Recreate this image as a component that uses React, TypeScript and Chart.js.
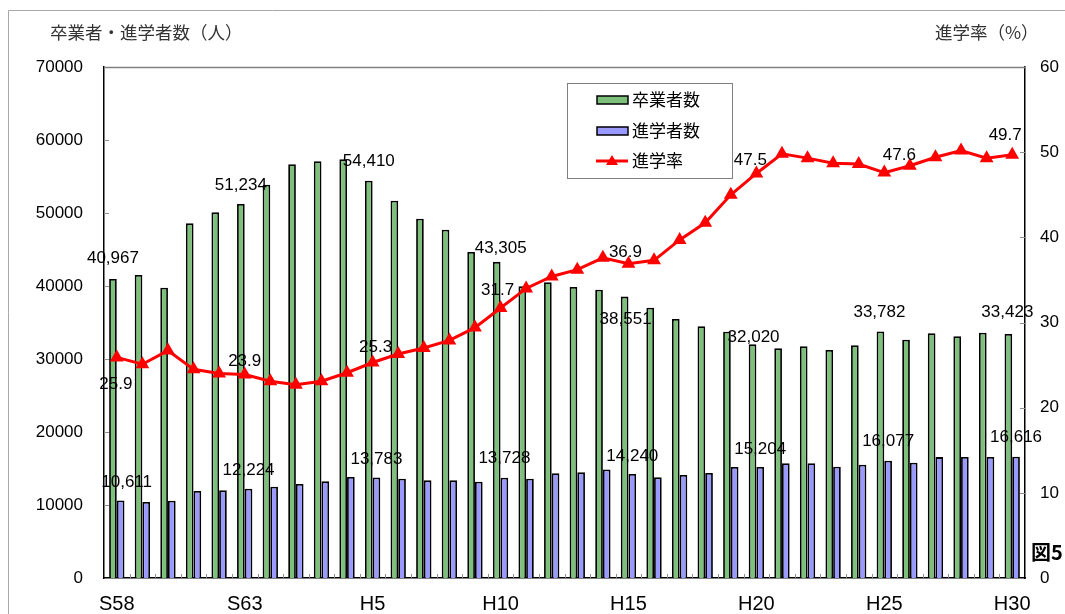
import React, { useEffect, useRef } from "react";
import { Chart, registerables } from "chart.js";

Chart.register(...registerables);

// ---- data ----
const categories = [
  "S58", "S59", "S60", "S61", "S62", "S63",
  "H1", "H2", "H3", "H4", "H5", "H6", "H7", "H8", "H9", "H10",
  "H11", "H12", "H13", "H14", "H15", "H16", "H17", "H18", "H19", "H20",
  "H21", "H22", "H23", "H24", "H25", "H26", "H27", "H28", "H29", "H30",
];
const graduates = [
  40967, 41500, 39770, 48580, 50090, 51234, 53880, 56670, 57080, 57350,
  54410, 51690, 49220, 47720, 44660, 43305, 39960, 40510, 39860, 39500,
  38551, 37030, 35480, 34480, 33740, 32020, 31460, 31740, 31230, 31870,
  33782, 32650, 33520, 33110, 33610, 33423,
];
const enrollees = [
  10611, 10410, 10590, 11920, 12010, 12224, 12510, 12880, 13240, 13830,
  13783, 13610, 13380, 13380, 13200, 13728, 13600, 14340, 14470, 14880,
  14240, 13790, 14110, 14380, 15200, 15204, 15710, 15710, 15250, 15530,
  16077, 15800, 16560, 16590, 16570, 16616,
];
const rate = [
  25.9, 25.1, 26.7, 24.5, 24.0, 23.9, 23.1, 22.7, 23.1, 24.1,
  25.3, 26.3, 27.0, 27.9, 29.4, 31.7, 34.0, 35.4, 36.2, 37.6,
  36.9, 37.3, 39.7, 41.7, 45.0, 47.5, 49.8, 49.3, 48.7, 48.6,
  47.6, 48.4, 49.4, 50.2, 49.3, 49.7,
];
const labeledIndices = [0, 5, 10, 15, 20, 25, 30, 35];
const seriesNames = ["卒業者数", "進学者数", "進学率"];
const leftTitle = "卒業者・進学者数（人）";
const rightTitle = "進学率（%）";
const figLabel = "図5";

// ---- label placement (style only) ----
const gradLabelOffset = [
  [0, -21], [0, -19], [0, -19], [4, -14], [1, 23], [1, -7], [-1, -19], [-1, -22],
];
const enrLabelOffset = [
  [6, -18], [0, -18], [0, -18], [0, -19], [0, -18], [0, -18], [0, -19], [0, -19],
];
const rateLabelOffset = [
  [-1, 27], [0, -13], [3, -15], [-3, -18], [-3, -11], [-6, -13], [15, -17], [-7, -19],
];

const GREEN = "#7cc07c";
const BLUE = "#9999ff";
const RED = "#ff0000";
const NUM_FONT = '"Liberation Sans", Arial, sans-serif';
const JP_FONT = '"Noto Sans CJK JP", "Noto Sans", sans-serif';

const fmt = (v: number) => v.toLocaleString("en-US");

const overlayPlugin = {
  id: "overlay",
  afterDatasetsDraw(chart: any) {
    const ctx = chart.ctx;
    ctx.save();
    ctx.font = `17px ${NUM_FONT}`;
    ctx.fillStyle = "#000";
    ctx.textAlign = "center";
    ctx.textBaseline = "middle";
    const metas = [0, 1, 2].map((i) => chart.getDatasetMeta(i));
    const offs = [gradLabelOffset, enrLabelOffset, rateLabelOffset];
    const vals = [graduates, enrollees, rate];
    labeledIndices.forEach((idx, k) => {
      for (let s = 0; s < 3; s++) {
        const el = metas[s].data[idx];
        if (!el) continue;
        const v = vals[s][idx];
        const txt = s === 2 ? v.toFixed(1) : fmt(v);
        ctx.fillText(txt, el.x + offs[s][k][0], el.y + offs[s][k][1]);
      }
    });
    ctx.restore();
  },
  afterDraw(chart: any) {
    const ctx = chart.ctx;
    const { left, right, top, bottom } = chart.chartArea;
    ctx.save();

    // outer frame
    ctx.strokeStyle = "#a8a8a8";
    ctx.lineWidth = 1;
    ctx.beginPath();
    ctx.moveTo(8.5, 614);
    ctx.lineTo(8.5, 10.5);
    ctx.lineTo(1065, 10.5);
    ctx.stroke();

    // top border of plot
    ctx.strokeStyle = "#808080";
    ctx.lineWidth = 1.5;
    ctx.beginPath();
    ctx.moveTo(left, top + 0.5);
    ctx.lineTo(right, top + 0.5);
    ctx.stroke();

    // inside tick marks
    ctx.strokeStyle = "#909090";
    ctx.lineWidth = 1;
    const y = chart.scales.y;
    const y1 = chart.scales.y1;
    for (let v = 10000; v < 70000; v += 10000) {
      const py = Math.round(y.getPixelForValue(v)) + 0.5;
      ctx.beginPath();
      ctx.moveTo(left, py);
      ctx.lineTo(left + 5, py);
      ctx.stroke();
    }
    for (let v = 10; v < 60; v += 10) {
      const py = Math.round(y1.getPixelForValue(v)) + 0.5;
      ctx.beginPath();
      ctx.moveTo(right - 5, py);
      ctx.lineTo(right, py);
      ctx.stroke();
    }
    const n = categories.length;
    for (let i = 1; i < n; i++) {
      const px = Math.round(left + (i * (right - left)) / n) + 0.5;
      ctx.beginPath();
      ctx.moveTo(px, bottom);
      ctx.lineTo(px, bottom - 4);
      ctx.stroke();
    }

    // axis titles
    ctx.fillStyle = "#333";
    ctx.font = `17.5px ${JP_FONT}`;
    ctx.textBaseline = "middle";
    ctx.textAlign = "left";
    ctx.fillText(leftTitle, 50, 32);
    ctx.fillText(rightTitle, 935, 32);

    // legend box
    const lx = 567, ly = 83, lw = 165, lh = 95;
    ctx.fillStyle = "#fff";
    ctx.fillRect(lx, ly, lw, lh);
    ctx.strokeStyle = "#808080";
    ctx.lineWidth = 1;
    ctx.strokeRect(lx + 0.5, ly + 0.5, lw, lh);
    const rows = [100, 131, 161];
    const fills = [GREEN, BLUE];
    for (let r = 0; r < 2; r++) {
      ctx.fillStyle = fills[r];
      ctx.fillRect(597, rows[r] - 4, 31, 8);
      ctx.strokeStyle = "#000";
      ctx.lineWidth = 1.5;
      ctx.strokeRect(597, rows[r] - 4, 31, 8);
    }
    ctx.strokeStyle = RED;
    ctx.lineWidth = 3;
    ctx.beginPath();
    ctx.moveTo(596, rows[2]);
    ctx.lineTo(628, rows[2]);
    ctx.stroke();
    ctx.fillStyle = RED;
    ctx.beginPath();
    ctx.moveTo(612, rows[2] - 6);
    ctx.lineTo(618, rows[2] + 4);
    ctx.lineTo(606, rows[2] + 4);
    ctx.closePath();
    ctx.fill();
    ctx.fillStyle = "#000";
    ctx.font = `17px ${JP_FONT}`;
    ctx.textAlign = "left";
    for (let r = 0; r < 3; r++) ctx.fillText(seriesNames[r], 632, rows[r]);

    // figure label
    ctx.font = `bold 20px ${JP_FONT}`;
    ctx.fillText(figLabel, 1031, 552);
    ctx.restore();
  },
};

export default function App() {
  const ref = useRef<HTMLCanvasElement | null>(null);
  useEffect(() => {
    if (!ref.current) return;
    const chart = new Chart(ref.current, {
      type: "bar",
      data: {
        labels: categories,
        datasets: [
          {
            type: "bar",
            label: seriesNames[0],
            data: graduates,
            backgroundColor: GREEN,
            borderColor: "#000",
            borderWidth: 1.8,
            yAxisID: "y",
            order: 2,
            barPercentage: 1,
            categoryPercentage: 0.6,
          },
          {
            type: "bar",
            label: seriesNames[1],
            data: enrollees,
            backgroundColor: BLUE,
            borderColor: "#000",
            borderWidth: 1.8,
            yAxisID: "y",
            order: 2,
            barPercentage: 1,
            categoryPercentage: 0.6,
          },
          {
            type: "line",
            label: seriesNames[2],
            data: rate,
            borderColor: RED,
            backgroundColor: RED,
            borderWidth: 3,
            pointStyle: "triangle",
            pointRadius: 5,
            pointBackgroundColor: RED,
            pointBorderColor: RED,
            tension: 0,
            yAxisID: "y1",
            order: 0,
          },
        ] as any,
      },
      options: {
        responsive: false,
        animation: false,
        devicePixelRatio: 1,
        layout: { padding: { top: 67, left: 0, right: 0, bottom: 0 } },
        plugins: {
          legend: { display: false },
          tooltip: { enabled: false },
          title: { display: false },
        },
        scales: {
          x: {
            type: "category",
            offset: true,
            grid: { display: false, drawTicks: false },
            border: { display: true, color: "#000", width: 1.5 },
            ticks: {
              autoSkip: false,
              maxRotation: 0,
              minRotation: 0,
              padding: 14,
              color: "#000",
              font: { family: NUM_FONT, size: 20 },
              callback: (_v: any, i: number) => (i % 5 === 0 ? categories[i] : ""),
            },
            afterFit: (s: any) => {
              s.height = 36;
            },
          },
          y: {
            type: "linear",
            position: "left",
            min: 0,
            max: 70000,
            grid: { display: false, drawTicks: false },
            border: { display: true, color: "#000", width: 1.5 },
            ticks: {
              stepSize: 10000,
              padding: 21,
              color: "#000",
              font: { family: NUM_FONT, size: 17 },
              callback: (v: any) => String(v),
            },
            afterFit: (s: any) => {
              s.width = 104;
            },
          },
          y1: {
            type: "linear",
            position: "right",
            min: 0,
            max: 60,
            grid: { display: false, drawTicks: false },
            border: { display: true, color: "#000", width: 1.5 },
            ticks: {
              stepSize: 10,
              padding: 15,
              color: "#000",
              font: { family: NUM_FONT, size: 17 },
              callback: (v: any) => String(v),
            },
            afterFit: (s: any) => {
              s.width = 40;
            },
          },
        },
      } as any,
      plugins: [overlayPlugin],
    });
    return () => chart.destroy();
  }, []);
  return (
    <div style={{ position: "fixed", left: 0, top: 0, width: 1065, height: 614, background: "#fff" }}>
      <canvas ref={ref} width={1065} height={614} style={{ display: "block" }} />
    </div>
  );
}
